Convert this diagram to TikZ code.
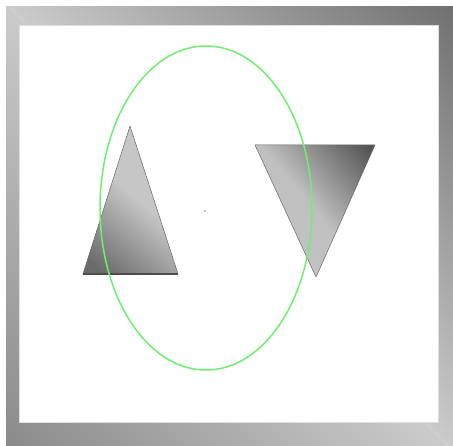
\documentclass[tikz,border=0pt]{standalone}
\usetikzlibrary{shapes.geometric}
\definecolor{frlight}{HTML}{CBCBCB}
\definecolor{frdark}{HTML}{707070}
\definecolor{frdark2}{HTML}{8A8A8A}
\definecolor{ellgreen}{HTML}{6EF06E}
\definecolor{dotblue}{HTML}{9090F0}
\definecolor{tlight}{HTML}{C6C6C6}
\definecolor{tdark}{HTML}{6A6A6A}
\definecolor{tdarkR}{HTML}{575757}
\pgfdeclarehorizontalshading{trishadeL}{100bp}{color(0bp)=(tdark); color(20bp)=(tdark); color(52bp)=(tlight); color(100bp)=(tlight)}
\pgfdeclarehorizontalshading{trishadeR}{100bp}{color(0bp)=(tlight); color(50bp)=(tlight!97!black); color(82bp)=(tdarkR); color(100bp)=(tdarkR)}
\tikzset{
  tri/.style={draw=gray!80!black, line width=0.5pt, line join=round},
}
\begin{document}
\begin{tikzpicture}[x=1pt,y=-1pt]
\useasboundingbox (0,0) rectangle (453,446);
\fill[white] (0,0) rectangle (453,446);
% frame
\begin{scope}
\clip (6,7) rectangle (453,446);
\begin{scope}[transform canvas={shift={(229.5,226.5)}, rotate=45}]
\shade[left color=frlight, right color=frdark] (0,-340) rectangle (315,340);
\shade[left color=frdark2, right color=frlight] (-315,-340) rectangle (0,340);
\end{scope}
\end{scope}
\fill[white, draw=gray!25, line width=0.8pt] (19.5,25) rectangle (438.5,422.5);
% left triangle
\coordinate (la) at (130,126);
\coordinate (lb) at (83,274);
\coordinate (lc) at (178,274);
\shade[shading=trishadeL, shading angle=50] (la) -- (lc) -- (lb) -- cycle;
\draw[tri] (la) -- (lc) -- (lb) -- cycle;
\draw[gray!60!black, line width=1.2pt] (lb) -- (lc);
% right triangle
\coordinate (ra) at (255,145);
\coordinate (rb) at (375,145);
\coordinate (rc) at (316,277);
\shade[shading=trishadeR, shading angle=40] (ra) -- (rb) -- (rc) -- cycle;
\draw[tri] (ra) -- (rb) -- (rc) -- cycle;
\draw[gray!50, line width=1pt] (ra) -- (rb);
% ellipse
\node[draw=ellgreen, line width=1.5pt, ellipse, minimum width=212pt, minimum height=324pt, inner sep=0pt] (ell) at (206,208) {};
% centre dot
\fill[dotblue] (205,211) circle (1pt);
\end{tikzpicture}
\end{document}
